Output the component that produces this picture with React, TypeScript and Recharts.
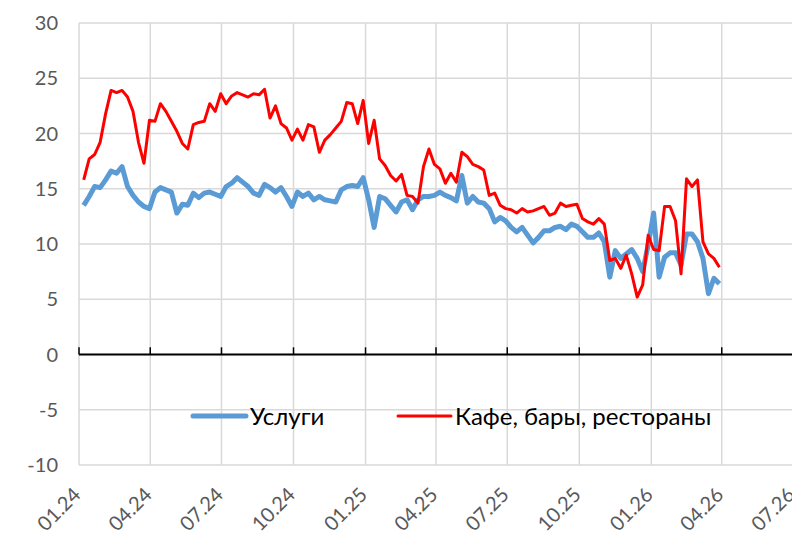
import React from "react";
import {
  LineChart,
  Line,
  XAxis,
  YAxis,
  CartesianGrid,
  ReferenceLine,
  Legend,
} from "recharts";

// quarter labels on the x axis (MM.YY)
const quarterLabels = [
  "01.24", "04.24", "07.24", "10.24", "01.25", "04.25",
  "07.25", "10.25", "01.26", "04.26", "07.26",
];
const yTicks = [-10, -5, 0, 5, 10, 15, 20, 25, 30];

// weekly observations, first week ending 2024-01-07
const firstWeek = "2024-01-07";

const services = [
  13.5, 14.3, 15.2, 15.1, 15.8, 16.6, 16.4, 17.0, 15.2, 14.4,
  13.8, 13.4, 13.2, 14.7, 15.1, 14.9, 14.7, 12.8, 13.6, 13.5,
  14.6, 14.2, 14.6, 14.7, 14.5, 14.3, 15.2, 15.5, 16.0, 15.6,
  15.2, 14.6, 14.4, 15.4, 15.1, 14.7, 15.1, 14.3, 13.4, 14.7,
  14.3, 14.6, 14.0, 14.3, 14.0, 13.9, 13.8, 14.9, 15.2, 15.3,
  15.2, 16.0, 14.0, 11.5, 14.3, 14.1, 13.5, 12.9, 13.8, 14.0,
  13.1, 14.0, 14.3, 14.3, 14.4, 14.7, 14.4, 14.2, 13.9, 16.2,
  13.7, 14.3, 13.8, 13.7, 13.2, 12.0, 12.4, 12.1, 11.5, 11.1,
  11.5, 10.8, 10.1, 10.6, 11.2, 11.2, 11.5, 11.6, 11.3, 11.8,
  11.6, 11.1, 10.6, 10.6, 11.0, 10.2, 7.0, 9.4, 8.7, 9.1,
  9.5, 8.7, 7.5, 9.9, 12.8, 7.0, 8.8, 9.2, 9.2, 8.1,
  10.9, 10.9, 10.2, 8.7, 5.5, 6.9, 6.4,
];

const cafes = [
  15.8, 17.7, 18.1, 19.2, 21.8, 23.9, 23.7, 23.9, 23.3, 22.0,
  19.2, 17.3, 21.2, 21.1, 22.7, 22.0, 21.1, 20.2, 19.1, 18.6,
  20.8, 21.0, 21.1, 22.7, 22.0, 23.6, 22.7, 23.4, 23.7, 23.5,
  23.3, 23.6, 23.5, 24.0, 21.4, 22.5, 20.9, 20.5, 19.4, 20.4,
  19.4, 20.8, 20.6, 18.3, 19.4, 19.9, 20.5, 21.1, 22.8, 22.7,
  20.9, 23.0, 19.1, 21.2, 17.7, 17.1, 16.2, 15.7, 16.3, 14.4,
  14.3, 13.7, 17.0, 18.6, 17.2, 16.8, 15.5, 16.4, 15.6, 18.3,
  17.9, 17.2, 17.0, 16.7, 14.4, 14.6, 13.5, 13.2, 13.1, 12.8,
  13.2, 12.9, 13.0, 13.2, 13.4, 12.6, 12.8, 13.7, 13.4, 13.5,
  13.6, 12.3, 12.0, 11.8, 12.3, 11.8, 8.5, 8.7, 7.8, 9.0,
  7.3, 5.2, 6.3, 10.8, 9.5, 9.4, 13.4, 13.4, 12.1, 7.3,
  15.9, 15.2, 15.8, 10.2, 9.1, 8.7, 7.9,
];

const DAY = 86400000;
const origin = Date.UTC(2024, 0, 1);

function labelToDay(label: string): number {
  const [m, y] = label.split(".");
  return Math.round((Date.UTC(2000 + Number(y), Number(m) - 1, 1) - origin) / DAY);
}

const quarterDays = quarterLabels.map(labelToDay);
const firstDay = Math.round((Date.parse(firstWeek) - origin) / DAY);

const data = services.map((v, i) => ({
  day: firstDay + 7 * i,
  services: v,
  cafes: cafes[i],
}));

const FONT = "Lato, 'Open Sans', sans-serif";

function QuarterTick(props: any) {
  const { x, y, payload } = props;
  const label = quarterLabels[quarterDays.indexOf(payload.value)] ?? "";
  const ax = x + 3;
  const ay = y + 31;
  return (
    <text
      x={ax}
      y={ay}
      transform={`rotate(-45, ${ax}, ${ay})`}
      textAnchor="end"
      fill="#595959"
      fontSize={20}
      fontFamily={FONT}
    >
      {label}
    </text>
  );
}

// legend order and look, left to right
const legendOrder = ["services", "cafes"];
const legendLeft: Record<string, number> = { services: 0, cafes: 205 };
const legendWidths: Record<string, number> = { services: 5, cafes: 3 };

function LegendContent(props: any) {
  const items = props.payload || [];
  return (
    <div style={{ position: "relative", height: 30, fontFamily: FONT, fontSize: 24, color: "#000" }}>
      {legendOrder.map((key) => {
        const item = items.find((p: any) => p.dataKey === key);
        if (!item) return null;
        return (
          <div
            key={key}
            style={{
              position: "absolute",
              left: legendLeft[key],
              top: 0,
              display: "flex",
              alignItems: "center",
              whiteSpace: "nowrap",
            }}
          >
            <svg width={60} height={30}>
              <line
                x1={3}
                y1={15}
                x2={56}
                y2={15}
                stroke={item.color}
                strokeWidth={legendWidths[key]}
                strokeLinecap="round"
              />
            </svg>
            <span style={{ lineHeight: "30px" }}>{item.value}</span>
          </div>
        );
      })}
    </div>
  );
}

export default function App() {
  return (
    <div
      style={{
        position: "absolute",
        left: 0,
        top: 0,
        width: 792,
        height: 533,
        overflow: "hidden",
        background: "#fff",
      }}
    >
      <LineChart
        width={800}
        height={533}
        data={data}
        margin={{ top: 23, right: 7, bottom: 8, left: 0 }}
      >
        <CartesianGrid stroke="#d9d9d9" strokeWidth={1.5} />
        <XAxis
          dataKey="day"
          type="number"
          domain={[quarterDays[0], quarterDays[quarterDays.length - 1]]}
          ticks={quarterDays}
          interval={0}
          axisLine={false}
          tickLine={false}
          tickSize={0}
          tickMargin={0}
          height={60}
          tick={<QuarterTick />}
        />
        <YAxis
          type="number"
          domain={[-10, 30]}
          ticks={yTicks}
          interval={0}
          axisLine={false}
          tickLine={false}
          tickSize={0}
          tickMargin={21}
          width={79}
          tick={{ fill: "#595959", fontSize: 20, fontFamily: FONT }}
        />
        <ReferenceLine y={0} stroke="#000" strokeWidth={2} />
        {quarterDays.map((d) => (
          <ReferenceLine
            key={d}
            segment={[
              { x: d, y: 0 },
              { x: d, y: 0.65 },
            ]}
            stroke="#000"
            strokeWidth={1.5}
          />
        ))}
        <Legend
          layout="horizontal"
          verticalAlign="middle"
          align="center"
          wrapperStyle={{ left: 190, top: 401, width: 580, height: 30 }}
          content={<LegendContent />}
        />
        <Line
          type="linear"
          dataKey="services"
          name="Услуги"
          stroke="#5B9BD5"
          strokeWidth={5}
          strokeLinejoin="round"
          dot={false}
          activeDot={false}
          isAnimationActive={false}
        />
        <Line
          type="linear"
          dataKey="cafes"
          name="Кафе, бары, рестораны"
          stroke="#FF0000"
          strokeWidth={3}
          strokeLinejoin="round"
          dot={false}
          activeDot={false}
          isAnimationActive={false}
        />
      </LineChart>
    </div>
  );
}
